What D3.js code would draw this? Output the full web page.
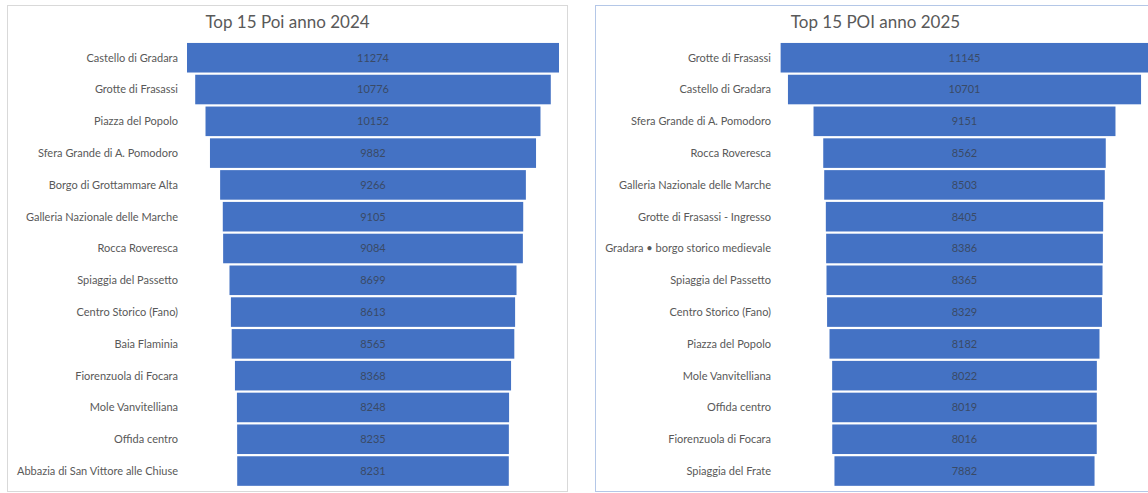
<!DOCTYPE html>
<html>
<head>
<meta charset="utf-8">
<script src="https://cdn.jsdelivr.net/npm/d3@7"></script>
<style>
  body { margin: 0; background: #fff; }
  svg { display: block; }
</style>
</head>
<body>
<div id="chart"></div>
<script>
// 2024 data
const poi2024 = ["Castello di Gradara", "Grotte di Frasassi", "Piazza del Popolo",
  "Sfera Grande di A. Pomodoro", "Borgo di Grottammare Alta", "Galleria Nazionale delle Marche",
  "Rocca Roveresca", "Spiaggia del Passetto", "Centro Storico (Fano)", "Baia Flaminia",
  "Fiorenzuola di Focara", "Mole Vanvitelliana", "Offida centro", "Abbazia di San Vittore alle Chiuse"];
const val2024 = [11274, 10776, 10152, 9882, 9266, 9105, 9084, 8699, 8613, 8565, 8368, 8248, 8235, 8231];

// 2025 data
const poi2025 = ["Grotte di Frasassi", "Castello di Gradara", "Sfera Grande di A. Pomodoro",
  "Rocca Roveresca", "Galleria Nazionale delle Marche", "Grotte di Frasassi - Ingresso",
  "Gradara • borgo storico medievale", "Spiaggia del Passetto", "Centro Storico (Fano)",
  "Piazza del Popolo", "Mole Vanvitelliana", "Offida centro", "Fiorenzuola di Focara",
  "Spiaggia del Frate"];
const val2025 = [11145, 10701, 9151, 8562, 8503, 8405, 8386, 8365, 8329, 8182, 8022, 8019, 8016, 7882];

const titles = ["Top 15 Poi anno 2024", "Top 15 POI anno 2025"];

const W = 1148, H = 493;
const svg = d3.select("#chart").append("svg")
  .attr("width", W)
  .attr("height", H);

const font = "Lato, 'Open Sans', sans-serif";

// funnel width scale, shared
const w = d3.scaleLinear().domain([0, 11274]).range([0, 372]);

const panels = [
  { x: 7.5, stroke: "#d9d9d9", labels: poi2024, vals: val2024, title: titles[0], cx: 373, labelX: 178 },
  { x: 595.5, stroke: "#b4c7e7", labels: poi2025, vals: val2025, title: titles[1], cx: 964.5, labelX: 771 }
];

panels.forEach(p => {
  const g = svg.append("g");

  g.append("rect")
    .attr("x", p.x)
    .attr("y", 5.5)
    .attr("width", 560)
    .attr("height", 486)
    .attr("fill", "#fff")
    .attr("stroke", p.stroke);

  g.append("text")
    .attr("x", p.x + 280)
    .attr("y", 28)
    .attr("text-anchor", "middle")
    .attr("font-family", font)
    .attr("font-size", "17px")
    .attr("fill", "#595959")
    .text(p.title);

  const y = d3.scaleBand()
    .domain(p.labels)
    .range([42, 42 + p.labels.length * 31.77])
    .paddingInner(0.07)
    .paddingOuter(0.03);

  const data = p.labels.map((l, i) => ({ label: l, val: p.vals[i] }));

  g.selectAll("rect.bar")
    .data(data)
    .enter()
    .append("rect")
    .attr("class", "bar")
    .attr("x", d => p.cx - w(d.val) / 2)
    .attr("y", d => y(d.label))
    .attr("width", d => w(d.val))
    .attr("height", y.bandwidth())
    .attr("fill", "#4472c4");

  g.selectAll("text.val")
    .data(data)
    .enter()
    .append("text")
    .attr("class", "val")
    .attr("x", p.cx)
    .attr("y", d => y(d.label) + y.bandwidth() / 2)
    .attr("dy", "0.35em")
    .attr("text-anchor", "middle")
    .attr("font-family", font)
    .attr("font-size", "11px")
    .attr("fill", "#3a4a66")
    .text(d => d.val);

  g.selectAll("text.lab")
    .data(data)
    .enter()
    .append("text")
    .attr("class", "lab")
    .attr("x", p.labelX)
    .attr("y", d => y(d.label) + y.bandwidth() / 2)
    .attr("dy", "0.35em")
    .attr("text-anchor", "end")
    .attr("font-family", font)
    .attr("font-size", "11px")
    .attr("fill", "#595959")
    .text(d => d.label);
});
</script>
</body>
</html>
